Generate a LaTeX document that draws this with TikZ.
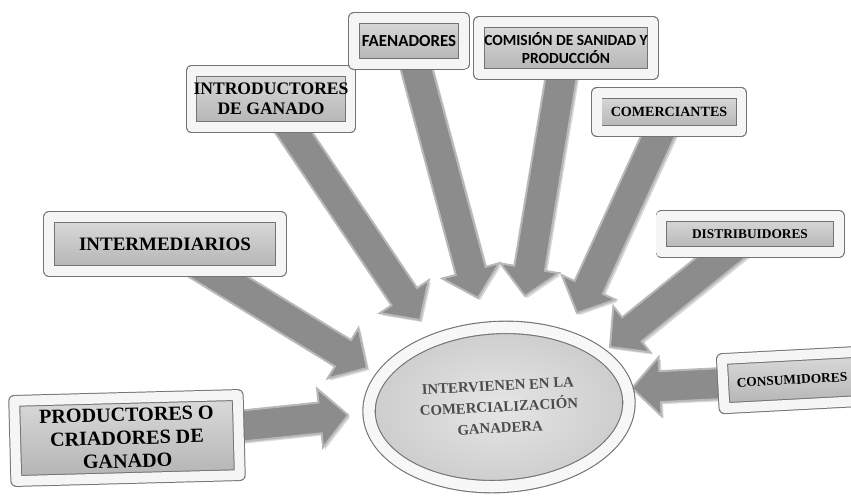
\documentclass[tikz,border=0pt]{standalone}
\usepackage{fontspec}
\setmainfont{Liberation Serif}
\newfontfamily\calfont{Carlito}
\usetikzlibrary{calc,shapes.geometric,shadows,backgrounds}
\newcommand{\arrshaft}{11pt}
\newcommand{\arrhead}{21pt}
\newcommand{\arrlen}{20pt}
\newcommand{\bigarrow}[2]{%
  \path ($(#2)!\arrlen!(#1)$) coordinate (hb);
  \draw[fatarrow] ($(#1)!\arrshaft!90:(#2)$) -- ($(hb)!\arrshaft!90:(#2)$)
    -- ($(hb)!\arrhead!90:(#2)$) -- (#2) -- ($(hb)!\arrhead!-90:(#2)$)
    -- ($(hb)!\arrshaft!-90:(#2)$) -- ($(#1)!\arrshaft!-90:(#2)$) -- cycle;}
\begin{document}
\begin{tikzpicture}[x=0.025cm, y=-0.025cm, line join=round,
	box/.style={rectangle, draw=black!55, double=black!4, double distance=7pt, line width=0.7pt,
		top color=black!14, bottom color=black!30, align=center, inner sep=1pt,
		drop shadow={shadow xshift=2pt, shadow yshift=-3pt, opacity=0.35}},
	fatarrow/.style={fill=black!45, draw=black!28, line width=1.4pt,
		drop shadow={shadow xshift=1.5pt, shadow yshift=-1.5pt, opacity=0.3}}]
	\useasboundingbox (0,0) rectangle (851,495);
	% centro
	\node[ellipse, rotate=3, draw=black!55, double=black!3, double distance=8pt, line width=0.8pt,
		inner color=black!10, outer color=black!20, minimum width=185pt, minimum height=113pt,
		align=center, text=black!70, font=\fontsize{10.5}{15}\selectfont\bfseries] (ell) at (499,407)
		{INTERVIENEN EN LA\\COMERCIALIZACIÓN\\GANADERA};
	% cajas
	\node[box, rotate=1.5, minimum width=159pt, minimum height=57pt, font=\fontsize{14.3}{16.5}\selectfont\bfseries] (prod) at (127,438) {PRODUCTORES O\\CRIADORES DE\\GANADO};
	\node[box, minimum width=165pt, minimum height=38pt, font=\fontsize{13.5}{14}\selectfont\bfseries] (interm) at (165,244) {INTERMEDIARIOS};
	\node[box, minimum width=113pt, minimum height=40pt, font=\fontsize{12.5}{14}\selectfont\bfseries] (intro) at (271,99) {INTRODUCTORES\\DE GANADO};
	\node[box, minimum width=78pt, minimum height=33pt, font=\calfont\fontsize{12}{13}\selectfont\bfseries] (faen) at (409,41) {FAENADORES};
	\node[box, minimum width=124pt, minimum height=37pt, font=\calfont\fontsize{11}{12.5}\selectfont\bfseries] (comis) at (566,48) {COMISIÓN DE SANIDAD Y\\PRODUCCIÓN};
	\node[box, minimum width=103pt, minimum height=27pt, font=\fontsize{10}{11}\selectfont\bfseries] (comerc) at (669,112) {COMERCIANTES};
	\node[box, minimum width=126pt, minimum height=26pt, font=\fontsize{9.5}{10}\selectfont\bfseries] (distrib) at (750,234) {DISTRIBUIDORES};
	\node[box, rotate=3, minimum width=98pt, minimum height=35pt, font=\fontsize{9.5}{10}\selectfont\bfseries] (consum) at (792,380) {CONSUMIDORES};
	% puntas
	\coordinate (tProd) at (348,415);
	\coordinate (tInterm) at (367,368);
	\coordinate (tIntro) at (420,320);
	\coordinate (tFaen) at (478,298);
	\coordinate (tComis) at (525,296);
	\coordinate (tComerc) at (577,313);
	\coordinate (tDistrib) at (610,347);
	\coordinate (tConsum) at (632,388);
	\begin{scope}[on background layer]
		\bigarrow{prod.center}{tProd}
		\bigarrow{interm.center}{tInterm}
		\bigarrow{intro.center}{tIntro}
		\bigarrow{faen.center}{tFaen}
		\bigarrow{comis.center}{tComis}
		\bigarrow{comerc.center}{tComerc}
		\bigarrow{distrib.center}{tDistrib}
		\bigarrow{consum.center}{tConsum}
	\end{scope}
\end{tikzpicture}
\end{document}
